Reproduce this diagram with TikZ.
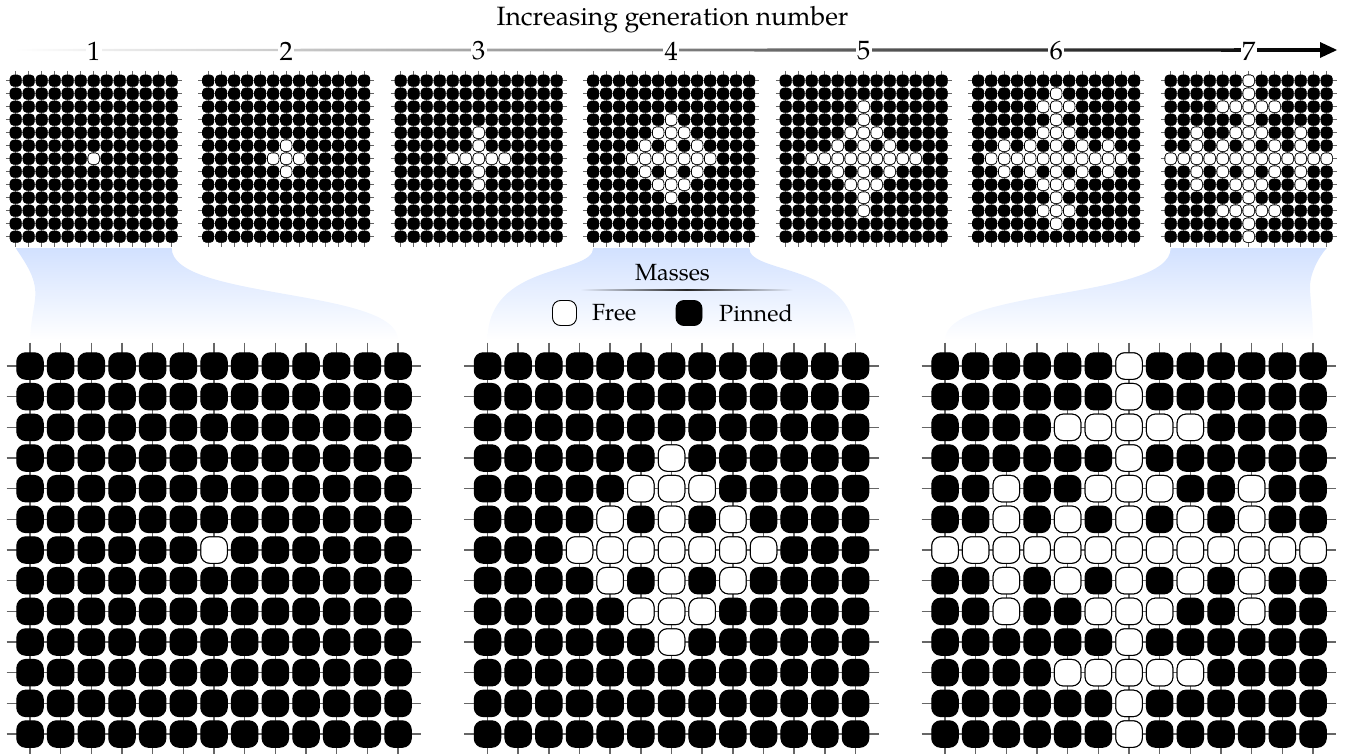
\documentclass[tikz,border=0pt]{standalone}
\usepackage{fontspec}
\IfFontExistsTF{TeX Gyre Pagella}{\setmainfont{TeX Gyre Pagella}}{\setmainfont{Liberation Serif}}
\usetikzlibrary{calc}
\definecolor{funnel}{RGB}{210,225,255}
\colorlet{legbg}{funnel!54!white}
\newcommand\ttlfont{\fontsize{26.5}{31}\selectfont}
\newcommand\lgdfont{\fontsize{23.4}{28}\selectfont}
\def\genA{6/6}
\def\genB{5/6,6/5,6/6,6/7,7/6}
\def\genC{4/6,5/6,6/4,6/5,6/6,6/7,6/8,7/6,8/6}
\def\genD{3/6,4/5,4/6,4/7,5/4,5/6,5/8,6/3,6/4,6/5,6/6,6/7,6/8,6/9,7/4,7/6,7/8,8/5,8/6,8/7,9/6}
\def\genE{2/6,3/6,4/5,4/6,4/7,5/4,5/6,5/8,6/2,6/3,6/4,6/5,6/6,6/7,6/8,6/9,6/10,7/4,7/6,7/8,8/5,8/6,8/7,9/6,10/6}
\def\genF{1/6,2/5,2/6,2/7,3/6,4/5,4/6,4/7,5/2,5/4,5/6,5/8,5/10,6/1,6/2,6/3,6/4,6/5,6/6,6/7,6/8,6/9,6/10,6/11,7/2,7/4,7/6,7/8,7/10,8/5,8/6,8/7,9/6,10/5,10/6,10/7,11/6}
\def\genG{0/6,1/6,2/4,2/5,2/6,2/7,2/8,3/6,4/2,4/5,4/6,4/7,4/10,5/2,5/4,5/6,5/8,5/10,6/0,6/1,6/2,6/3,6/4,6/5,6/6,6/7,6/8,6/9,6/10,6/11,6/12,7/2,7/4,7/6,7/8,7/10,8/2,8/5,8/6,8/7,8/10,9/6,10/4,10/5,10/6,10/7,10/8,11/6,12/6}
% #1 x0, #2 y0, #3 spacing, #4 kind, #5 name, #6 free list
\newcommand\massgrid[6]{%
  \foreach \r in {0,...,12}{%
    \coordinate (#5-hl\r) at ({#1-0.76*#3},{#2+\r*#3});
    \coordinate (#5-hr\r) at ({#1+12.76*#3},{#2+\r*#3});
    \draw[#4spring] (#5-hl\r) -- (#5-hr\r);
    \coordinate (#5-vt\r) at ({#1+\r*#3},{#2-0.76*#3});
    \coordinate (#5-vb\r) at ({#1+\r*#3},{#2+12.76*#3});
    \draw[#4spring] (#5-vt\r) -- (#5-vb\r);
  }%
  \foreach \r in {0,...,12}{%
    \foreach \c in {0,...,12}{%
      \node[#4pin] (#5-\r-\c) at ({#1+\c*#3},{#2+\r*#3}) {};
    }%
  }%
  \foreach \r/\c in #6 {%
    \node[#4free] (#5-f\r-\c) at (#5-\r-\c) {};
  }%
}
\begin{document}
\begin{tikzpicture}[x=1pt,y=-1pt,
  smallspring/.style={draw=black!60, line width=0.9pt},
  bigspring/.style={draw=black!60, line width=1.5pt},
  smallpin/.style={rectangle, draw=black, fill=black, line width=0.6pt,
    minimum size=11.4pt, inner sep=0pt, outer sep=0pt, rounded corners=3.8pt},
  smallfree/.style={smallpin, fill=white},
  bigpin/.style={rectangle, draw=black, fill=black, line width=1pt,
    minimum size=26.5pt, inner sep=0pt, outer sep=0pt, rounded corners=9pt},
  bigfree/.style={bigpin, fill=white},
  numnode/.style={font=\ttlfont, fill=white, inner sep=1.5pt},
  legtext/.style={font=\lgdfont, inner sep=0pt},
]
\useasboundingbox (0,0) rectangle (1345,753);
\clip (0,0) rectangle (1345,753);

% funnels
\shade[top color=funnel, bottom color=white]
  (15.7,248) -- (171.7,248) .. controls (171.7,300) and (398,288) .. (398,340)
  -- (30,340) .. controls (31,315) and (37,300) .. (35,288)
  .. controls (33,272) and (22,258) .. (15.7,248) -- cycle;
\shade[top color=funnel, bottom color=white]
  (593.2,248) -- (749.2,248) .. controls (749.2,275) and (855.5,262) .. (855.5,340)
  -- (487.5,340) .. controls (487.5,262) and (593.2,275) .. (593.2,248) -- cycle;
\shade[top color=funnel, bottom color=white]
  (1170.7,248) -- (1326.7,248) .. controls (1318,258) and (1309,275) .. (1310,290)
  .. controls (1311,305) and (1313,320) .. (1313,340)
  -- (945,340) .. controls (945,288) and (1170.7,300) .. (1170.7,248) -- cycle;

% axis
\coordinate (axs) at (14,50);
\coordinate (axe) at (1321,50);
\coordinate (axtip) at (1337,50);
\shade[left color=white, right color=black]
  ($(axs)+(0,-1.1)$) -- ($(axe)+(0,-1.8)$) -- ($(axe)+(0,1.8)$) -- ($(axs)+(0,1.1)$) -- cycle;
\fill[black] ($(axe)+(-1,-8)$) -- (axtip) -- ($(axe)+(-1,8)$) -- cycle;
\foreach \k in {1,...,7}{%
  \node[numnode] (n\k) at ({93.7+192.5*(\k-1)},51) {\k};
}
\node[font=\ttlfont, anchor=base, inner sep=0pt] (title) at (672.5,25) {Increasing generation number};

% small grids
\massgrid{15.7}{80.7}{13}{small}{sa}{\genA}
\massgrid{208.2}{80.7}{13}{small}{sb}{\genB}
\massgrid{400.7}{80.7}{13}{small}{sc}{\genC}
\massgrid{593.2}{80.7}{13}{small}{sd}{\genD}
\massgrid{785.7}{80.7}{13}{small}{se}{\genE}
\massgrid{978.2}{80.7}{13}{small}{sf}{\genF}
\massgrid{1170.7}{80.7}{13}{small}{sg}{\genG}

% big grids
\massgrid{30}{366}{30.67}{big}{ba}{\genA}
\massgrid{487.5}{366}{30.67}{big}{bb}{\genD}
\massgrid{945}{366}{30.67}{big}{bc}{\genG}

% legend
\node[legtext] (masses) at (672.5,273) {Masses};
\coordinate (rl) at (580,290);
\coordinate (rr) at (793,290);
\shade[left color=legbg, right color=legbg, middle color=black!85]
  ($(rl)+(0,-0.6)$) rectangle ($(rr)+(0,0.6)$);
\node[rectangle, draw=black, fill=white, line width=0.9pt, minimum width=24pt,
  minimum height=25pt, rounded corners=8pt] (freebox) at (564.5,313) {};
\node[legtext, anchor=west] (freetxt) at (592,313) {Free};
\node[rectangle, draw=black, fill=black, line width=0.9pt, minimum width=26pt,
  minimum height=25pt, rounded corners=8pt] (pinbox) at (689,313) {};
\node[legtext, anchor=west] (pintxt) at (719,313) {Pinned};
\end{tikzpicture}
\end{document}
